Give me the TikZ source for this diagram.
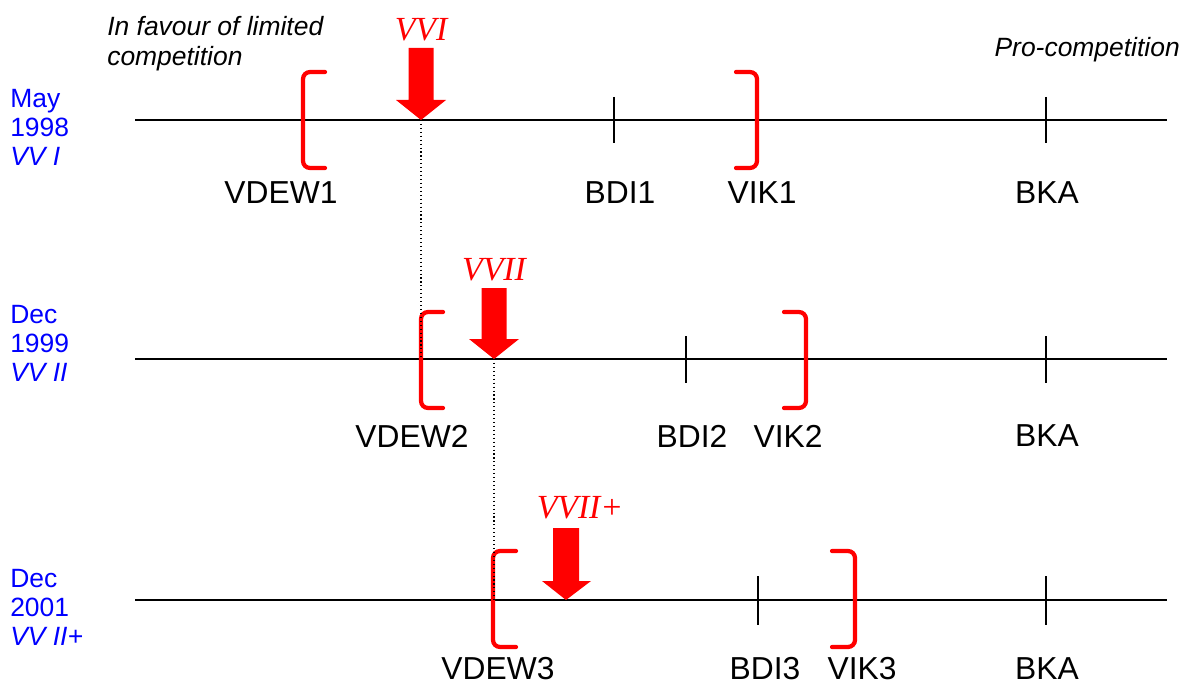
\documentclass[tikz,border=0pt]{standalone}
\usepackage{fontspec}
\setmainfont{Liberation Sans}
\newfontfamily\vvfont{Liberation Serif}
\usepackage{tikz}
\usetikzlibrary{positioning}

\begin{document}
\begin{tikzpicture}[x=0.025cm, y=-0.025cm, font=\fontsize{22.6}{26}\selectfont,
	axis/.style={line width=1.4pt, black},
	tick/.style={line width=1pt, black},
	brack/.style={line width=3pt, red, rounded corners=5pt, line cap=round},
	arr/.style={fill=red, draw=none},
	link/.style={dotted, line width=0.8pt, black},
	lbl/.style={inner sep=0pt, anchor=center},
	date/.style={inner sep=0pt, anchor=west, align=left, text=blue,
		font=\fontsize{18.8}{20.6}\selectfont},
	note/.style={inner sep=0pt, font=\fontsize{18.8}{21.5}\selectfont\itshape},
	vv/.style={inner sep=0pt, text=red, font=\fontsize{24}{26}\selectfont\vvfont\itshape}]

	\useasboundingbox (0,0) rectangle (1184,689);

	% row 1
	\coordinate (a1) at (135,120);  \coordinate (b1) at (1167,120);
	\coordinate (t1) at (421,120);
	\draw[axis] (a1) -- (b1);
	\draw[tick] (614,97) -- (614,143);
	\draw[tick] (1046,97) -- (1046,143);
	\draw[brack] (325,72) -- (303,72) -- (303,168) -- (325,168);
	\draw[brack] (736,72) -- (757,72) -- (757,168) -- (736,168);
	\fill[arr] (t1) -- ++(-25,-20) -- ++(12.5,0) -- ++(0,-52) -- ++(25,0)
		-- ++(0,52) -- ++(12.5,0) -- cycle;
	\node[vv] (vv1) at (421,30) {VVI};
	\node[lbl] (vdew1) at (281,193) {VDEW1};
	\node[lbl] (bdi1) at (620,193) {BDI1};
	\node[lbl] (vik1) at (762,193) {VIK1};
	\node[lbl] (bka1) at (1047,193) {BKA};
	\node[date] (d1) at (10,127) {May\\1998\\\textit{VV I}};

	% row 2
	\coordinate (a2) at (135,359);  \coordinate (b2) at (1167,359);
	\coordinate (t2) at (494,359);  \coordinate (p2) at (421,359);
	\draw[axis] (a2) -- (b2);
	\draw[tick] (686,336) -- (686,383);
	\draw[tick] (1046,336) -- (1046,383);
	\draw[brack] (443,312) -- (421,312) -- (421,408) -- (443,408);
	\draw[brack] (784,312) -- (806,312) -- (806,408) -- (784,408);
	\fill[arr] (t2) -- ++(-25,-20) -- ++(12.5,0) -- ++(0,-51) -- ++(25,0)
		-- ++(0,51) -- ++(12.5,0) -- cycle;
	\node[vv] (vv2) at (494,270) {VVII};
	\node[lbl] (vdew2) at (412,436) {VDEW2};
	\node[lbl] (bdi2) at (692,436) {BDI2};
	\node[lbl] (vik2) at (788,436) {VIK2};
	\node[lbl] (bka2) at (1047,436) {BKA};
	\node[date] (d2) at (10,343) {Dec\\1999\\\textit{VV II}};

	% row 3
	\coordinate (a3) at (135,600);  \coordinate (b3) at (1167,600);
	\coordinate (t3) at (566,600);  \coordinate (p3) at (494,600);
	\draw[axis] (a3) -- (b3);
	\draw[tick] (758,576) -- (758,625);
	\draw[tick] (1046,576) -- (1046,625);
	\draw[brack] (516,551) -- (493,551) -- (493,647) -- (516,647);
	\draw[brack] (832,551) -- (855,551) -- (855,647) -- (832,647);
	\fill[arr] (t3) -- ++(-24,-19) -- ++(11,0) -- ++(0,-53) -- ++(26,0)
		-- ++(0,53) -- ++(12,0) -- cycle;
	\node[vv] (vv3) at (580,508) {VVII+};
	\node[lbl] (vdew3) at (498,669) {VDEW3};
	\node[lbl] (bdi3) at (765,669) {BDI3};
	\node[lbl] (vik3) at (862,669) {VIK3};
	\node[lbl] (bka3) at (1047,669) {BKA};
	\node[date] (d3) at (10,607) {Dec\\2001\\\textit{VV II+}};

	% shifts between rounds
	\draw[link] (t1) -- (p2);
	\draw[link] (t2) -- (p3);

	% ends of the scale
	\node[note, anchor=north west, align=left] (fav) at (107,16) {In favour of limited\\competition};
	\node[note, anchor=east] (pro) at (1180,50) {Pro-competition};
\end{tikzpicture}
\end{document}
